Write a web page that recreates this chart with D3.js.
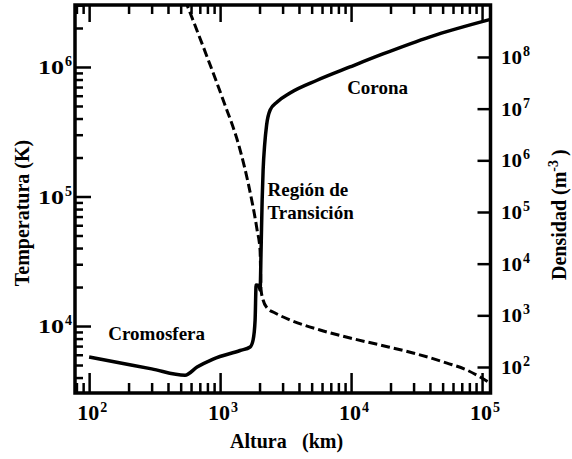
<!DOCTYPE html>
<html>
<head>
<meta charset="utf-8">
<script src="https://cdn.jsdelivr.net/npm/d3@7"></script>
<style>
  body { margin: 0; background: #fff; }
  text { font-family: "Liberation Serif", "Times New Roman", serif; font-weight: bold; fill: #000; }
</style>
</head>
<body>
<div id="chart"></div>
<script>
// temperature profile (solid line)
var tempHeight = [100, 300, 540, 667, 885, 1422, 1695, 1786, 1850, 1884, 1987, 2020, 2055, 2094, 2130, 2188, 2265, 2410, 2725, 3420, 5500, 9800, 17500, 40100, 116000];
var temperature = [5770, 4670, 4170, 4820, 5560, 6470, 6890, 7800, 11100, 20700, 20400, 18970, 38600, 94000, 160000, 250000, 357000, 466000, 537000, 630000, 790000, 1000000, 1260000, 1710000, 2330000];

// density profile (dashed line)
var densHeight = [540, 796, 1055, 1422, 1660, 1916, 2018, 2055, 2130, 2285, 2630, 3420, 5790, 9820, 16630, 29700, 54000, 76800, 96600, 116000];
var density = [1.28e9, 1.0e8, 1.47e7, 1.58e6, 3.1e5, 4.48e4, 1.84e4, 3090, 1980, 1390, 1110, 813, 520, 364, 267, 187, 119, 87, 64, 48.3];

var xMajors = [1e2, 1e3, 1e4, 1e5];
var tMajors = [1e4, 1e5, 1e6];
var nMajors = [1e2, 1e3, 1e4, 1e5, 1e6, 1e7, 1e8];

var labels = [
	{ text: "Corona", h: 9330, t: 616000 },
	{ text: "Región de", h: 2300, t: 101000 },
	{ text: "Transición", h: 2300, t: 67000 },
	{ text: "Cromosfera", h: 140, t: 7800 }
];

var width = 572, height = 459;
// plot frame (window.top is reserved, so keep these in an object)
var frame = { left: 75, right: 490.5, top: 5, bottom: 393 };

var svg = d3.select("#chart").append("svg")
	.attr("width", width)
	.attr("height", height);

svg.append("rect").attr("width", width).attr("height", height).attr("fill", "#fff");

var x = d3.scaleLog().domain([78, 116000]).range([frame.left, frame.right]);
var yT = d3.scaleLog().domain([3040, 3.01e6]).range([frame.bottom, frame.top]);
var yN = d3.scaleLog().domain([31.4, 1.014e9]).range([frame.bottom, frame.top]);

//minor ticks: 2..9 of each decade inside the domain
function minors(scale)
{
	var d = scale.domain();
	var out = [];
	for(var e = Math.floor(Math.log10(d[0])); e <= Math.ceil(Math.log10(d[1])); e++)
	{
		for(var k = 2; k <= 9; k++)
		{
			var v = k * Math.pow(10, e);
			if(v > d[0] && v < d[1]) out.push(v);
		}
	}
	return out;
}

function tickGroup(axis, tx, ty, size)
{
	var g = svg.append("g")
		.attr("transform", "translate(" + tx + "," + ty + ")")
		.call(axis.tickSize(size).tickFormat(""));
	g.select(".domain").remove();
	g.selectAll("line").attr("stroke", "#000").attr("stroke-width", 2.5);
}

tickGroup(d3.axisBottom(x).tickValues(xMajors), 0, frame.bottom, -20);
tickGroup(d3.axisBottom(x).tickValues(minors(x)), 0, frame.bottom, -10);
tickGroup(d3.axisTop(x).tickValues(xMajors), 0, frame.top, -17);
tickGroup(d3.axisTop(x).tickValues(minors(x)), 0, frame.top, -9);
tickGroup(d3.axisLeft(yT).tickValues(tMajors), frame.left, 0, -16);
tickGroup(d3.axisLeft(yT).tickValues(minors(yT)), frame.left, 0, -8);
tickGroup(d3.axisRight(yN).tickValues(nMajors), frame.right, 0, -13);

// frame
svg.append("rect")
	.attr("x", frame.left).attr("y", frame.top)
	.attr("width", frame.right - frame.left).attr("height", frame.bottom - frame.top)
	.attr("fill", "none").attr("stroke", "#000").attr("stroke-width", 3.5);

// curves
svg.append("clipPath").attr("id", "plot")
	.append("rect").attr("x", frame.left).attr("y", frame.top)
	.attr("width", frame.right - frame.left).attr("height", frame.bottom - frame.top);

var tLine = d3.line()
	.x(function(d){ return x(d[0]); })
	.y(function(d){ return yT(d[1]); })
	.curve(d3.curveMonotoneX);

var nLine = d3.line()
	.x(function(d){ return x(d[0]); })
	.y(function(d){ return yN(d[1]); })
	.curve(d3.curveMonotoneX);

svg.append("path")
	.attr("clip-path", "url(#plot)")
	.attr("d", nLine(d3.zip(densHeight, density)))
	.attr("fill", "none").attr("stroke", "#000")
	.attr("stroke-width", 3).attr("stroke-dasharray", "9,4");

svg.append("path")
	.attr("clip-path", "url(#plot)")
	.attr("d", tLine(d3.zip(tempHeight, temperature)))
	.attr("fill", "none").attr("stroke", "#000")
	.attr("stroke-width", 3.5).attr("stroke-linejoin", "round");

// tick labels "10" with exponent
function power(v){ return Math.round(Math.log10(v)); }

xMajors.forEach(function(v){
	var px = x(v);
	svg.append("text").attr("x", px - 1).attr("y", 420)
		.attr("text-anchor", "middle").style("font-size", "22px").text("10");
	svg.append("text").attr("x", px + 11).attr("y", 412)
		.style("font-size", "14px").text(power(v));
});

tMajors.forEach(function(v){
	var py = yT(v);
	svg.append("text").attr("x", 38).attr("y", py + 7)
		.attr("textLength", 26).attr("lengthAdjust", "spacingAndGlyphs")
		.style("font-size", "18px").text("10");
	svg.append("text").attr("x", 65).attr("y", py - 1)
		.style("font-size", "14px").text(power(v));
});

nMajors.forEach(function(v){
	var py = yN(v);
	svg.append("text").attr("x", 501).attr("y", py + 7)
		.attr("textLength", 21).attr("lengthAdjust", "spacingAndGlyphs")
		.style("font-size", "18px").text("10");
	svg.append("text").attr("x", 523).attr("y", py - 1)
		.style("font-size", "14px").text(power(v));
});

// axis titles
svg.append("text")
	.attr("transform", "translate(29,213) rotate(-90)")
	.attr("text-anchor", "middle").style("font-size", "20px")
	.text("Temperatura (K)");

var dens = svg.append("text")
	.attr("transform", "translate(566,280) rotate(-90)")
	.style("font-size", "20px");
dens.append("tspan").text("Densidad (m");
dens.append("tspan").attr("dy", -8).style("font-size", "14px").text("-3");
dens.append("tspan").attr("dy", 8).attr("dx", 4).text(")");

svg.append("text").attr("x", 230).attr("y", 448).style("font-size", "20px").text("Altura");
svg.append("text").attr("x", 302).attr("y", 448).style("font-size", "20px").text("(km)");

// region names
svg.selectAll(".region")
	.data(labels)
	.enter().append("text")
	.attr("class", "region")
	.attr("x", function(d){ return x(d.h); })
	.attr("y", function(d){ return yT(d.t); })
	.style("font-size", "19px")
	.text(function(d){ return d.text; });
</script>
</body>
</html>
